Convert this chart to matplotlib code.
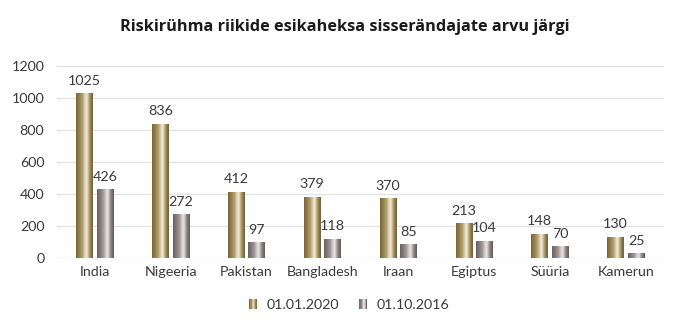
import numpy as np
import matplotlib.pyplot as plt
from matplotlib.colors import LinearSegmentedColormap
from matplotlib.legend_handler import HandlerBase
from matplotlib.patches import Rectangle

countries = ["India", "Nigeeria", "Pakistan", "Bangladesh", "Iraan", "Egiptus", "Süüria", "Kamerun"]
v2020 = [1025, 836, 412, 379, 370, 213, 148, 130]
v2016 = [426, 272, 97, 118, 85, 104, 70, 25]
series_names = ["01.01.2020", "01.10.2016"]
yticks = [0, 200, 400, 600, 800, 1000, 1200]

plt.rcParams['font.family'] = ['Lato', 'DejaVu Sans']

# metallic look: dark edges, bright stripe right of centre
gold = LinearSegmentedColormap.from_list("gold", [
    (0.0, "#78643a"), (0.35, "#ad9866"), (0.62, "#f7f1df"),
    (0.82, "#a48f5c"), (1.0, "#6f5c32")])
grey = LinearSegmentedColormap.from_list("grey", [
    (0.0, "#6a5f5f"), (0.35, "#9d9393"), (0.62, "#efebeb"),
    (0.82, "#8f8484"), (1.0, "#645959")])
grad = np.linspace(0, 1, 64).reshape(1, -1)


class GradientHandler(HandlerBase):
    def __init__(self, cmap):
        super().__init__()
        self.cmap = cmap

    def create_artists(self, legend, orig, xd, yd, w, h, fontsize, trans):
        n = 10
        bw = w
        x0 = xd
        out = []
        for i in range(n):
            r = Rectangle((x0 + bw * i / n, yd + h * 0.05), bw / n + 0.01, h * 0.95,
                          facecolor=self.cmap((i + 0.5) / n), edgecolor='none',
                          transform=trans)
            out.append(r)
        return out


fig = plt.figure(figsize=(6.85, 3.23), dpi=100)
ax = fig.add_axes([0.083, 0.201, 0.886, 0.595])

x = np.arange(len(countries))
w = 0.22
off = 0.135
bars1 = ax.bar(x - off, v2020, w, color='none', zorder=2)
bars2 = ax.bar(x + off, v2016, w, color='none', zorder=2)

for bars, cmap in [(bars1, gold), (bars2, grey)]:
    for b in bars:
        bx, bh = b.get_x(), b.get_height()
        ax.imshow(grad, cmap=cmap, extent=(bx, bx + b.get_width(), 0, bh),
                  aspect='auto', zorder=3, interpolation='bicubic')

for bars, vals in [(bars1, v2020), (bars2, v2016)]:
    for b, v in zip(bars, vals):
        ax.annotate(str(v), (b.get_x() + b.get_width() / 2, v), xytext=(0, 5),
                    textcoords='offset points', ha='center', va='bottom',
                    fontsize=10.3, color='#3a3a3a')

ax.set_xlim(-0.5, 7.5)
ax.set_ylim(0, 1200)
ax.set_yticks(yticks)
ax.set_xticks(x)
ax.set_xticklabels(countries)
ax.grid(axis='y', color='#e2e2e2', linewidth=1, zorder=0)
ax.set_axisbelow(True)
for s in ax.spines.values():
    s.set_visible(False)
ax.tick_params(length=0, labelsize=10.3, colors='#3a3a3a')
ax.tick_params(axis='y', pad=9)
ax.tick_params(axis='x', pad=6)

fig.suptitle("Riskirühma riikide esikaheksa sisserändajate arvu järgi",
             x=0.503, y=0.94, fontsize=11.7, fontweight='bold', color='#1a1a1a',
             family=['Open Sans', 'DejaVu Sans'])

h1 = Rectangle((0, 0), 1, 1)
h2 = Rectangle((0, 0), 1, 1)
fig.legend([h1, h2], series_names, loc='center', bbox_to_anchor=(0.51, 0.055),
           ncol=2, frameon=False, fontsize=10.3, handlelength=0.55, handleheight=0.7,
           handletextpad=0.7, columnspacing=1.4, labelcolor='#3a3a3a',
           handler_map={h1: GradientHandler(gold), h2: GradientHandler(grey)})

fig.savefig('out.png', dpi=100)
